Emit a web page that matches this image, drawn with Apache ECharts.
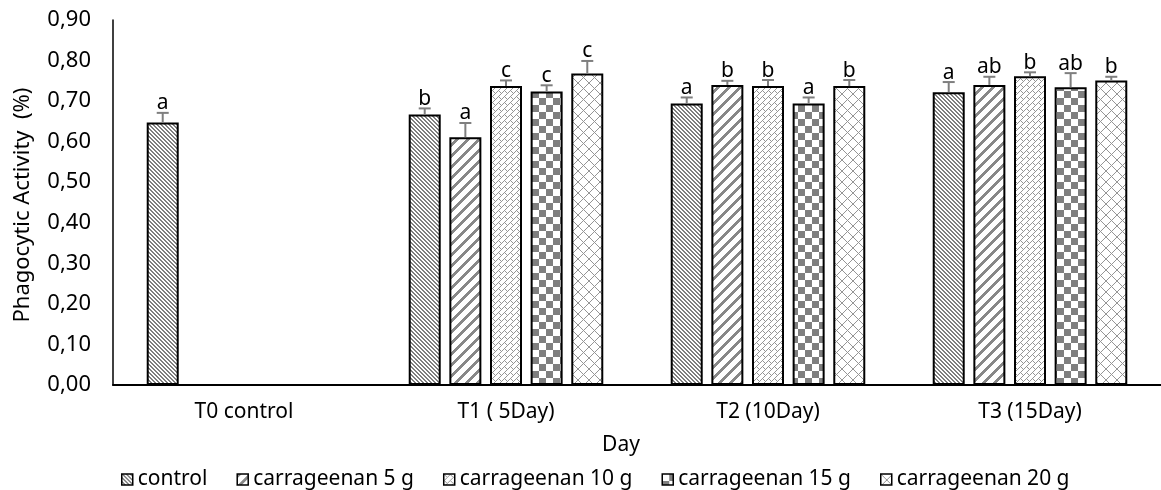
<!DOCTYPE html>
<html>
<head>
<meta charset="utf-8">
<script src="https://cdn.jsdelivr.net/npm/echarts@6/dist/echarts.min.js"></script>
<style>
html,body{margin:0;padding:0;background:#fff;}
#chart{width:1161px;height:490px;}
</style>
</head>
<body>
<div id="chart"></div>
<script>
// ---- data ----
const categories = ['T0 control', 'T1 ( 5Day)', 'T2 (10Day)', 'T3 (15Day)'];
const seriesNames = ['control', 'carrageenan 5 g', 'carrageenan 10 g', 'carrageenan 15 g', 'carrageenan 20 g'];
const controlVals = [0.647, 0.667, 0.694, 0.722];
const c5Vals      = [null, 0.611, 0.740, 0.740];
const c10Vals     = [null, 0.737, 0.737, 0.761];
const c15Vals     = [null, 0.724, 0.694, 0.734];
const c20Vals     = [null, 0.768, 0.737, 0.751];
const controlErr = [0.024, 0.015, 0.015, 0.025];
const c5Err      = [null, 0.035, 0.010, 0.020];
const c10Err     = [null, 0.014, 0.015, 0.010];
const c15Err     = [null, 0.015, 0.015, 0.035];
const c20Err     = [null, 0.031, 0.015, 0.009];
const controlLet = ['a', 'b', 'a', 'a'];
const c5Let      = [null, 'a', 'b', 'ab'];
const c10Let     = [null, 'c', 'b', 'b'];
const c15Let     = [null, 'c', 'a', 'ab'];
const c20Let     = [null, 'c', 'b', 'b'];
const yTicks = [0, 0.1, 0.2, 0.3, 0.4, 0.5, 0.6, 0.7, 0.8, 0.9];

const allVals = [controlVals, c5Vals, c10Vals, c15Vals, c20Vals];
const allErr = [controlErr, c5Err, c10Err, c15Err, c20Err];
const allLet = [controlLet, c5Let, c10Let, c15Let, c20Let];

// ---- patterns ----
const G = '#7f7f7f';
function makeTile(size, fn, color) {
  const c = document.createElement('canvas');
  c.width = size; c.height = size;
  const ctx = c.getContext('2d');
  ctx.fillStyle = '#fff';
  ctx.fillRect(0, 0, size, size);
  ctx.fillStyle = color;
  for (let y = 0; y < size; y++) for (let x = 0; x < size; x++) {
    if (fn(x, y)) ctx.fillRect(x, y, 1, 1);
  }
  return c;
}
const mod = (a, n) => ((a % n) + n) % n;
const tiles = [
  makeTile(4, (x, y) => mod(x - y, 4) < 2, G),
  makeTile(11, (x, y) => mod(x + y, 11) < 4, '#888888'),
  makeTile(12, (x, y) => {
    const s = mod(x + y, 12), d = mod(x - y, 12);
    if (s === 0 || s === 6) return true;
    if (d === 0 && s > 0 && s < 6) return true;
    if (d === 6 && s > 6) return true;
    return false;
  }, '#959595'),
  makeTile(14, (x, y) => ((Math.floor(x / 7) + Math.floor(y / 7)) % 2) === 1, G),
  makeTile(11, (x, y) => (mod(x + y, 11) === 0 || mod(x - y, 11) === 0), '#959595')
];
const patterns = tiles.map(t => ({ image: t, repeat: 'repeat' }));

const FONT = '"Noto Sans", "Open Sans", sans-serif';
const BAR_W = 32;
const BAR_GAP = 0.27;

const series = [];
seriesNames.forEach((name, i) => {
  series.push({
    name: name,
    type: 'bar',
    data: allVals[i],
    barWidth: BAR_W,
    barGap: (BAR_GAP * 100) + '%',
    itemStyle: { color: patterns[i], borderColor: '#000', borderWidth: 2 },
    emphasis: { disabled: true },
    animation: false
  });
});
seriesNames.forEach((name, i) => {
  const data = [];
  allVals[i].forEach((v, ci) => {
    if (v != null) data.push([ci, v, allErr[i][ci]]);
  });
  const offset = (i - 2) * BAR_W * (1 + BAR_GAP);
  series.push({
    type: 'custom',
    name: name + ' err',
    data: data,
    z: 10,
    clip: false,
    animation: false,
    silent: true,
    encode: { x: 0, y: 1 },
    renderItem: function (params, api) {
      const ci = api.value(0), v = api.value(1), e = api.value(2);
      const letter = allLet[i][ci];
      const p0 = api.coord([ci, v]);
      const p1 = api.coord([ci, v + e]);
      const x = p0[0] + offset;
      return {
        type: 'group',
        children: [
          { type: 'line', shape: { x1: x, y1: p0[1], x2: x, y2: p1[1] }, style: { stroke: G, lineWidth: 2 } },
          { type: 'line', shape: { x1: x - 6, y1: p1[1], x2: x + 6, y2: p1[1] }, style: { stroke: G, lineWidth: 2 } },
          { type: 'text', style: { text: letter, x: x, y: p1[1] + 1, textAlign: 'center', textVerticalAlign: 'bottom', fill: '#000', font: '21px ' + FONT } }
        ]
      };
    }
  });
});

const chart = echarts.init(document.getElementById('chart'), null, { renderer: 'canvas' });
chart.setOption({
  animation: false,
  backgroundColor: '#fff',
  textStyle: { fontFamily: FONT },
  grid: { left: 113, top: 20, width: 1060, height: 365, containLabel: false },
  legend: {
    data: seriesNames,
    left: 116,
    top: 464,
    icon: 'rect',
    itemWidth: 11,
    itemHeight: 11,
    itemGap: 29,
    textStyle: { fontSize: 21, color: '#000', fontFamily: FONT },
    itemStyle: { borderColor: '#000', borderWidth: 1.5 }
  },
  xAxis: {
    type: 'category',
    data: categories,
    axisLine: { lineStyle: { color: '#000', width: 2 } },
    axisTick: { show: false },
    axisLabel: { fontSize: 21, color: '#000', margin: 17, fontFamily: FONT }
  },
  yAxis: {
    type: 'value',
    min: 0, max: 0.9, interval: 0.1,
    axisLine: { show: true, lineStyle: { color: '#000', width: 1.5 } },
    axisTick: { show: false },
    splitLine: { show: false },
    axisLabel: {
      fontSize: 22, color: '#000', margin: 22, fontFamily: FONT,
      formatter: v => { const t = yTicks.find(k => Math.abs(k - v) < 1e-9); return (t != null ? t : v).toFixed(2).replace('.', ','); }
    }
  },
  graphic: [
    { type: 'text', x: 621, y: 445, style: { text: 'Day', textAlign: 'center', textVerticalAlign: 'middle', fill: '#000', font: '21px ' + FONT } },
    { type: 'text', x: 23, y: 205, rotation: Math.PI / 2, style: { text: 'Phagocytic Activity  (%)', textAlign: 'center', textVerticalAlign: 'middle', fill: '#000', font: '22px ' + FONT } }
  ],
  series: series
});
</script>
</body>
</html>
